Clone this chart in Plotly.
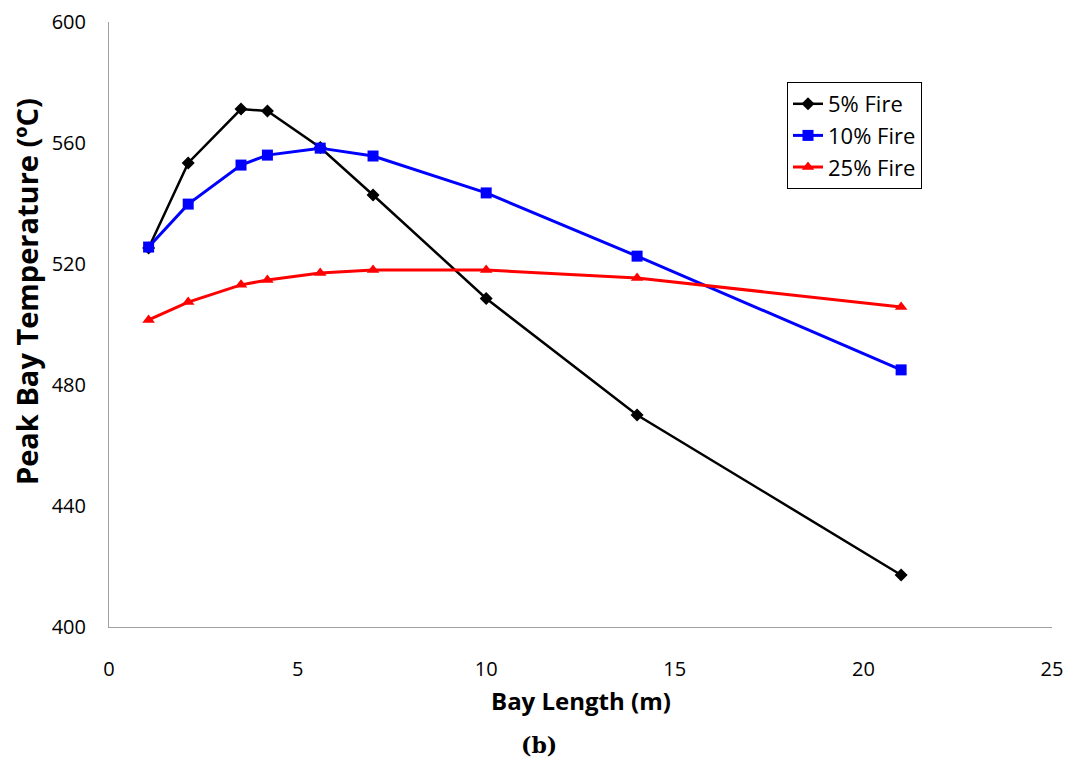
import plotly.graph_objects as go

bay_length = [1.05, 2.1, 3.5, 4.2, 5.6, 7, 10, 14, 21]
fire5 = [525.3, 553.4, 571.2, 570.6, 558.5, 542.8, 508.6, 470.1, 417.2]
fire10 = [525.6, 539.8, 552.7, 556.0, 558.3, 555.7, 543.5, 522.6, 485.0]
fire25 = [501.5, 507.4, 513.1, 514.7, 517.0, 518.0, 518.0, 515.4, 505.8]

fig = go.Figure()
fig.add_trace(go.Scatter(x=bay_length, y=fire5, name="5% Fire", mode="lines+markers",
                         line=dict(color="black", width=2.5),
                         marker=dict(symbol="diamond", size=10, color="black")))
fig.add_trace(go.Scatter(x=bay_length, y=fire10, name="10% Fire", mode="lines+markers",
                         line=dict(color="#0000FF", width=3),
                         marker=dict(symbol="square", size=11, color="#0000FF")))
fig.add_trace(go.Scatter(x=bay_length, y=fire25, name="25% Fire", mode="lines+markers",
                         line=dict(color="#FF0000", width=3),
                         marker=dict(symbol="triangle-up", size=11, color="#FF0000")))

font_family = "'Open Sans', Lato, sans-serif"
fig.update_layout(
    width=1071, height=762,
    margin=dict(l=109, r=19, t=22, b=135, autoexpand=False),
    paper_bgcolor="white", plot_bgcolor="white",
    font=dict(family=font_family, size=20, color="black"),
    showlegend=True,
    legend=dict(x=(787 - 109) / 943, y=(627 - 82) / 605, xanchor="left", yanchor="top",
                bordercolor="black", borderwidth=1, bgcolor="white",
                font=dict(size=22, family=font_family), itemwidth=30),
    xaxis=dict(range=[0, 25], tickvals=[0, 5, 10, 15, 20, 25], showgrid=False,
               showline=True, linecolor="#A0A0A0", linewidth=1, zeroline=False,
               ticks="", ticklabelstandoff=24, automargin=False),
    yaxis=dict(range=[400, 600], tickvals=[400, 440, 480, 520, 560, 600], showgrid=False,
               showline=True, linecolor="#A0A0A0", linewidth=1, zeroline=False,
               ticks="", ticklabelstandoff=18, automargin=False),
)
fig.add_annotation(text="<b>Bay Length (m)</b>", xref="paper", yref="paper",
                   x=(581 - 109) / 943, y=(627 - 700) / 605, showarrow=False,
                   font=dict(family=font_family, size=24, color="black"),
                   xanchor="center", yanchor="middle")
fig.add_annotation(text="<b>Peak Bay Temperature (ºC)</b>", xref="paper", yref="paper",
                   x=(26 - 109) / 943, y=(627 - 292) / 605, showarrow=False, textangle=-90,
                   font=dict(family=font_family, size=29, color="black"),
                   xanchor="center", yanchor="middle")
fig.add_annotation(text="<b>(b)</b>", xref="paper", yref="paper",
                   x=(539 - 109) / 943, y=(627 - 745) / 605, showarrow=False,
                   font=dict(family="'DejaVu Serif', serif", size=22, color="black"),
                   xanchor="center", yanchor="middle")

fig.write_html("out.html")
